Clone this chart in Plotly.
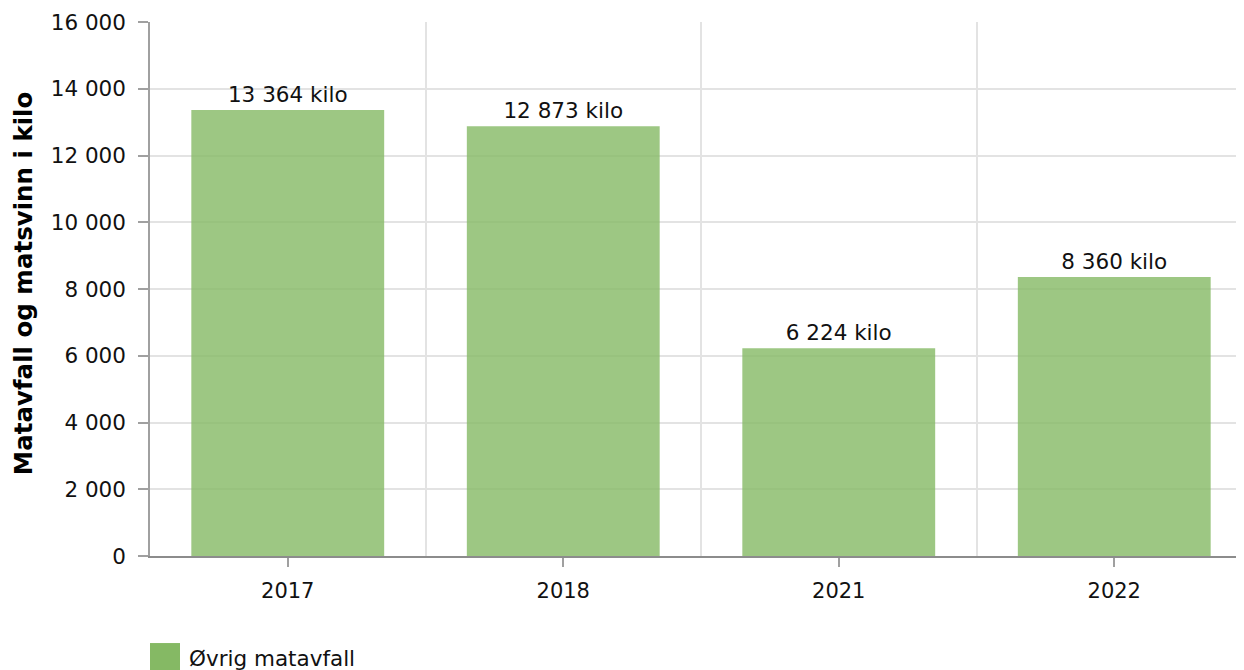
import plotly.graph_objects as go

years = ["2017", "2018", "2021", "2022"]
values = [13364, 12873, 6224, 8360]
series_name = "Øvrig matavfall"
y_title = "Matavfall og matsvinn i kilo"
y_ticks = [0, 2000, 4000, 6000, 8000, 10000, 12000, 14000, 16000]

FONT = "DejaVu Sans, Verdana, sans-serif"
GREEN = "#85b964"
GREEN_BAR = "rgba(133,185,100,0.8)"

xs = list(range(len(years)))

fig = go.Figure()
fig.add_trace(go.Bar(
    x=xs, y=values, name=series_name,
    marker=dict(color=GREEN_BAR, line=dict(width=0)),
    width=0.70,
    texttemplate="%{y:,} kilo",
    textposition="outside",
    textfont=dict(size=21.5, color="#111111", family=FONT),
    cliponaxis=False,
    showlegend=False,
))

fig.update_layout(
    width=1244, height=670,
    margin=dict(l=142, r=0, t=14, b=122, autoexpand=False),
    paper_bgcolor="white", plot_bgcolor="white",
    separators=", ",
    font=dict(family=FONT, size=21, color="#111111"),
    xaxis=dict(
        range=[-0.5, len(years) - 0.5],
        tickvals=xs, ticktext=years,
        showgrid=False, zeroline=False,
        showline=True, linecolor="#8c8c8c", linewidth=1.5,
        ticks="outside", ticklen=9, tickcolor="#a0a0a0", tickwidth=1.5,
        ticklabelstandoff=6,
        tickfont=dict(size=21, color="#111111"),
        minor=dict(tickvals=[i + 0.5 for i in range(-1, len(years))],
                   showgrid=True, gridcolor="#e3e3e3", gridwidth=1.5, ticks=""),
    ),
    yaxis=dict(
        range=[0, 16000],
        tickvals=y_ticks,
        tickformat=",d",
        showgrid=True, gridcolor="#e3e3e3", gridwidth=1.5,
        zeroline=False,
        showline=True, linecolor="#a0a0a0", linewidth=1.5,
        ticks="outside", ticklen=10, tickcolor="#a0a0a0", tickwidth=1.5,
        ticklabelstandoff=8,
        tickfont=dict(size=21.5, color="#111111"),
        automargin=False,
    ),
    shapes=[dict(type="rect", xref="paper", yref="paper",
                 x0=0, x1=30 / 1102, y0=-0.163, y1=-0.215,
                 fillcolor=GREEN, line=dict(width=0))],
    annotations=[
        dict(text=series_name, xref="paper", yref="paper",
             x=37 / 1102, y=-0.192, xanchor="left", yanchor="middle",
             showarrow=False, font=dict(size=21.5, color="#111111")),
        dict(text="<b>" + y_title + "</b>", xref="paper", yref="paper",
             x=-0.1152, y=0.511, xanchor="center", yanchor="middle",
             textangle=-90, showarrow=False,
             font=dict(size=24.5, color="#000000")),
    ],
)

fig.write_html("out.html")
